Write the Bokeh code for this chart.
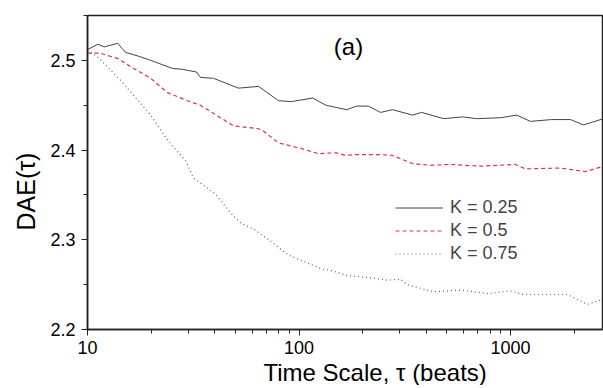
from bokeh.plotting import figure
from bokeh.models import Range1d, Legend, LegendItem, Label, FixedTicker, Title
from bokeh.embed import file_html
from bokeh.resources import INLINE

# K = 0.25
tau_k025 = [10, 11.2, 12, 13.9, 15.1, 17.8, 19.9, 25.2, 28.1, 32.8, 34.2, 39.4, 51.8, 64.4, 80, 92,
            116, 134, 168, 187, 213, 243, 277, 344, 380, 482, 593, 691, 897, 1068, 1243, 1563,
            1921, 2214, 2752]
dae_k025 = [2.512, 2.518, 2.515, 2.519, 2.509, 2.504, 2.500, 2.491, 2.490, 2.487, 2.481, 2.480,
            2.469, 2.471, 2.455, 2.454, 2.458, 2.450, 2.445, 2.449, 2.449, 2.442, 2.445, 2.439,
            2.442, 2.435, 2.437, 2.435, 2.436, 2.439, 2.432, 2.434, 2.434, 2.428, 2.435]

# K = 0.5
tau_k05 = [10, 11.5, 13.9, 16.5, 19.9, 23.9, 29.7, 34.2, 49.0, 63.7, 67.2, 80, 101.6, 123.7,
           150.4, 166, 187, 243, 277, 344, 418.5, 520, 721.6, 1056, 1177, 1723, 2262, 2752]
dae_k05 = [2.508, 2.508, 2.502, 2.491, 2.480, 2.464, 2.455, 2.450, 2.427, 2.424, 2.422, 2.408,
           2.402, 2.396, 2.397, 2.394, 2.395, 2.395, 2.394, 2.385, 2.383, 2.384, 2.382, 2.384,
           2.379, 2.380, 2.376, 2.382]

# K = 0.75
tau_k075 = [10, 11.15, 14.3, 19.9, 23.9, 29.1, 31.7, 40.3, 47.5, 52.9, 60.9, 71.0, 83.6, 91.2,
            109.7, 126.4, 145.6, 169.6, 210.8, 262.0, 302, 325.8, 432.4, 580, 778.5, 1000, 1152,
            1859, 2312, 2752]
dae_k075 = [2.511, 2.504, 2.478, 2.439, 2.411, 2.388, 2.369, 2.351, 2.330, 2.319, 2.312, 2.301,
            2.288, 2.282, 2.274, 2.268, 2.265, 2.260, 2.258, 2.255, 2.256, 2.250, 2.242, 2.244,
            2.240, 2.243, 2.239, 2.239, 2.228, 2.234]

labels = ["K = 0.25", "K = 0.5", "K = 0.75"]
y_ticks = [2.2, 2.3, 2.4, 2.5]
x_ticks = [10, 100, 1000]
x_title = "Time Scale, \u03c4 (beats)"
y_title = "DAE(\u03c4)"
panel_title = "(a)"

FONT = "Liberation Sans"

p = figure(frame_width=516, frame_height=314, output_backend="svg", toolbar_location=None,
           x_axis_type="log", x_range=Range1d(10, 2752), y_range=Range1d(2.2, 2.55),
           min_border_left=87, min_border_right=0, min_border_top=15, min_border_bottom=0)
p.xgrid.visible = False
p.ygrid.visible = False
p.outline_line_color = "#222222"
p.outline_line_width = 1.5
p.background_fill_color = "white"
p.border_fill_color = "white"

r1 = p.line(tau_k025, dae_k025, line_color="#444444", line_width=1)
r2 = p.line(tau_k05, dae_k05, line_color="#dd3344", line_width=1.2, line_dash="4 3")
r3 = p.line(tau_k075, dae_k075, line_color="#5555bb", line_width=1.2, line_dash="1 3")

for ax in (p.xaxis[0], p.yaxis[0]):
    ax.axis_line_color = "#222222"
    ax.axis_line_width = 1.5
    ax.major_tick_line_color = "#222222"
    ax.minor_tick_line_color = "#222222"
    ax.major_tick_out = 6
    ax.major_tick_in = 0
    ax.minor_tick_out = 4
    ax.minor_tick_in = 0
    ax.major_label_text_font = FONT
    ax.major_label_text_font_size = "18px"
    ax.major_label_text_color = "black"

p.yaxis.ticker = FixedTicker(ticks=y_ticks, minor_ticks=[2.25, 2.35, 2.45, 2.55])
p.yaxis.major_label_overrides = {t: f"{t:.1f}" for t in y_ticks}
p.xaxis.major_label_overrides = {t: str(t) for t in x_ticks}
p.xaxis.major_label_standoff = 5
p.yaxis.major_label_standoff = 6

xt = Title(text=x_title, align="left", offset=176, text_font=FONT, text_font_size="24px",
           text_font_style="normal", text_color="black", standoff=0)
p.add_layout(xt, "below")
yt = Title(text=y_title, align="left", offset=99, text_font=FONT, text_font_size="25px",
           text_font_style="normal", text_color="black", standoff=16)
p.add_layout(yt, "left")

legend = Legend(items=[LegendItem(label=labels[0], renderers=[r1]),
                       LegendItem(label=labels[1], renderers=[r2]),
                       LegendItem(label=labels[2], renderers=[r3])],
                location=(308, 64), padding=0, spacing=0, margin=0,
                glyph_width=48, glyph_height=23, label_height=23, label_standoff=7,
                label_text_font=FONT, label_text_font_size="18px",
                border_line_color=None, background_fill_alpha=0)
p.add_layout(legend)

p.add_layout(Label(x=261, y=283, x_units="screen", y_units="screen", text=panel_title,
                   text_font=FONT, text_font_size="24px", text_align="center",
                   text_baseline="middle", text_color="black"))

open("out.html", "w").write(file_html(p, INLINE))
